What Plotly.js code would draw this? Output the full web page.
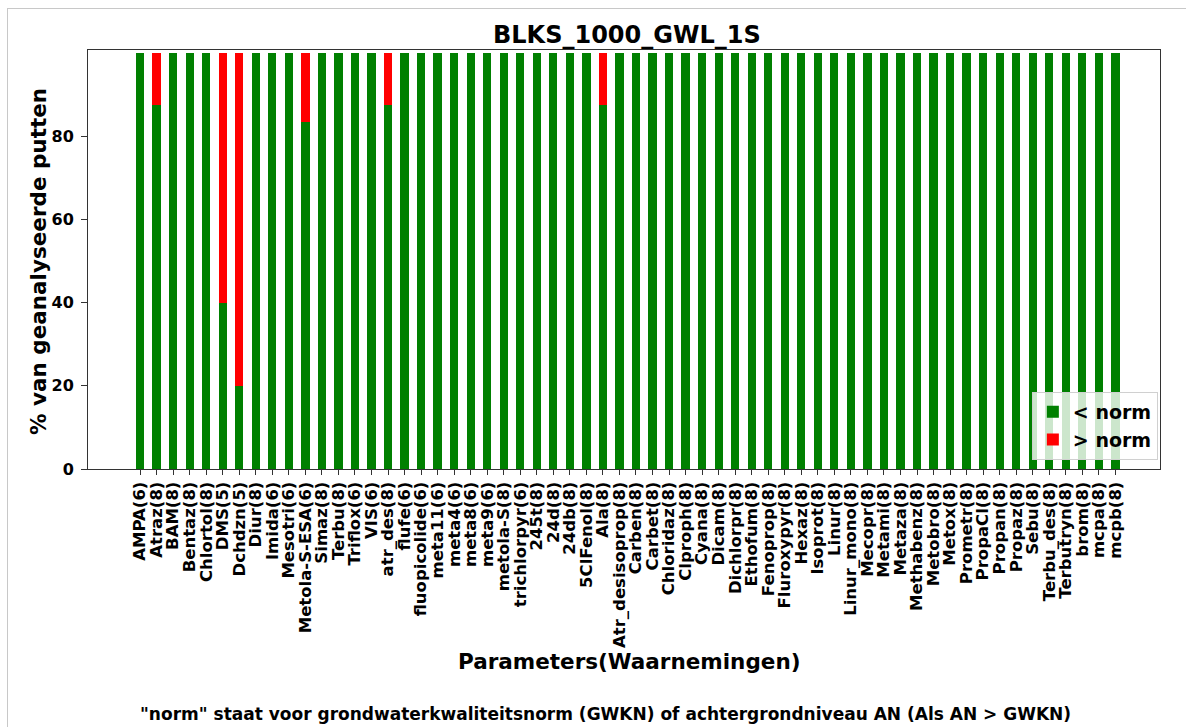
<!DOCTYPE html>
<html>
<head>
<meta charset="utf-8">
<script src="https://cdn.plot.ly/plotly-3.0.1.min.js"></script>
<style>
html,body{margin:0;padding:0;background:#fff;}
#frame{position:absolute;left:7px;top:8px;width:1179px;height:719px;border-left:1px solid #c8c8c8;border-top:1px solid #c8c8c8;}
#chart{position:absolute;left:0;top:0;width:1186px;height:727px;}
</style>
</head>
<body>
<div id="frame"></div>
<div id="chart"></div>
<script>
const categories = ["AMPA(6)","Atraz(8)","BAM(8)","Bentaz(8)","Chlortol(8)","DMS(5)","Dchdzn(5)","Diur(8)","Imida(6)","Mesotri(6)","Metola-S-ESA(6)","Simaz(8)","Terbu(8)","Triflox(6)","VIS(6)","atr_des(8)","flufe(6)","fluopicolide(6)","meta11(6)","meta4(6)","meta8(6)","meta9(6)","metola-S(8)","trichlorpyr(6)","245t(8)","24d(8)","24db(8)","5ClFenol(8)","Ala(8)","Atr_desisoprop(8)","Carben(8)","Carbet(8)","Chloridaz(8)","Clproph(8)","Cyana(8)","Dicam(8)","Dichlorpr(8)","Ethofum(8)","Fenoprop(8)","Fluroxypyr(8)","Hexaz(8)","Isoprot(8)","Linur(8)","Linur_mono(8)","Mecopr(8)","Metami(8)","Metaza(8)","Methabenz(8)","Metobro(8)","Metox(8)","Prometr(8)","PropaCl(8)","Propan(8)","Propaz(8)","Sebu(8)","Terbu_des(8)","Terbutryn(8)","brom(8)","mcpa(8)","mcpb(8)"];
const belowNorm = [100,87.5,100,100,100,40,20,100,100,100,83.33,100,100,100,100,87.5,100,100,100,100,100,100,100,100,100,100,100,100,87.5,100,100,100,100,100,100,100,100,100,100,100,100,100,100,100,100,100,100,100,100,100,100,100,100,100,100,100,100,100,100,100];
const aboveNorm = [0,12.5,0,0,0,60,80,0,0,0,16.67,0,0,0,0,12.5,0,0,0,0,0,0,0,0,0,0,0,0,12.5,0,0,0,0,0,0,0,0,0,0,0,0,0,0,0,0,0,0,0,0,0,0,0,0,0,0,0,0,0,0,0];
const yTickVals = [0,20,40,60,80];
const titleText = "BLKS_1000_GWL_1S";
const xTitle = "Parameters(Waarnemingen)";
const yTitle = "% van geanalyseerde putten";
const footNote = '"norm" staat voor grondwaterkwaliteitsnorm (GWKN) of achtergrondniveau AN (Als AN > GWKN)';
const legendNames = ["< norm", "> norm"];

const font = "DejaVu Sans, sans-serif";
const traces = [
  {type:"bar", x:categories, y:belowNorm, name:legendNames[0], marker:{color:"#008000"}, width:0.5},
  {type:"bar", x:categories, y:aboveNorm, name:legendNames[1], marker:{color:"#ff0000"}, width:0.5}
];
const layout = {
  width:1186, height:727,
  paper_bgcolor:"rgba(0,0,0,0)", plot_bgcolor:"#fff",
  barmode:"stack",
  margin:{l:88, r:26, t:50, b:258, pad:0},
  font:{family:font, color:"#000", size:12},
  xaxis:{
    type:"category", range:[-3.15, 61.7], tickangle:-90,
    tickmode:"array", tickvals:categories, ticktext:categories,
    tickfont:{size:16.5, family:font, color:"#000", weight:"bold"},
    ticks:"outside", ticklen:5, tickcolor:"#333",
    showline:true, linecolor:"#333", linewidth:1, mirror:true,
    showgrid:false, zeroline:false, automargin:false
  },
  yaxis:{
    range:[0, 100.7], tickvals:yTickVals,
    tickfont:{size:16, family:font, color:"#000", weight:"bold"},
    ticks:"outside", ticklen:6, tickcolor:"#333", ticklabelstandoff:4,
    showline:true, linecolor:"#333", linewidth:1, mirror:true,
    showgrid:false, zeroline:false, automargin:false
  },
  legend:{
    x:0.998, y:0.0215, xanchor:"right", yanchor:"bottom",
    bgcolor:"rgba(255,255,255,0.8)", bordercolor:"#d0d0d0", borderwidth:1,
    font:{size:19, family:font, color:"#000", weight:"bold"},
    traceorder:"normal"
  },
  annotations:[
    {text:"<b>"+titleText+"</b>", xref:"paper", yref:"paper", x:0.503, y:1.0358, xanchor:"center", yanchor:"middle", showarrow:false, font:{size:24, family:font, color:"#000"}},
    {text:"<b>"+xTitle+"</b>", xref:"paper", yref:"paper", x:0.505, y:-0.4606, xanchor:"center", yanchor:"middle", showarrow:false, font:{size:21.5, family:font, color:"#000"}},
    {text:"<b>"+yTitle+"</b>", xref:"paper", yref:"paper", x:-0.0466, y:0.494, xanchor:"center", yanchor:"middle", textangle:-90, showarrow:false, font:{size:21.5, family:font, color:"#000"}},
    {text:"<b>"+footNote+"</b>", xref:"paper", yref:"paper", x:0.4823, y:-0.5847, xanchor:"center", yanchor:"middle", showarrow:false, font:{size:17, family:font, color:"#000"}}
  ],
  showlegend:true
};
Plotly.newPlot("chart", traces, layout, {displayModeBar:false, staticPlot:true});
</script>
</body>
</html>
